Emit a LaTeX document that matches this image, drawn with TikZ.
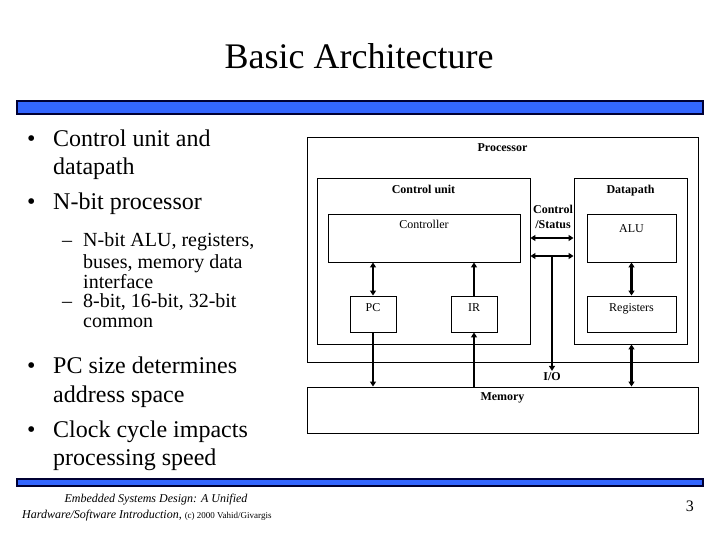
\documentclass[tikz,border=0pt]{standalone}
\usepackage{fontspec}
\setmainfont{Liberation Serif}
\usetikzlibrary{arrows.meta, positioning}

\definecolor{barblue}{RGB}{51,102,255}
\definecolor{barnavy}{RGB}{0,0,51}

\tikzset{
  box/.style={draw, line width=0.9pt, rectangle, inner sep=0pt},
  lbl/.style={anchor=base, inner sep=0pt, font=\fontsize{12}{14}\selectfont},
  blbl/.style={lbl, font=\fontsize{12}{14}\selectfont\bfseries},
  bus/.style={line width=2.2pt, {Triangle[length=5pt,width=6pt]}-{Triangle[length=5pt,width=6pt]}},
  toarrow/.style={line width=2.2pt, -{Triangle[length=5pt,width=6pt]}},
  bigtxt/.style={anchor=base west, inner sep=0pt, font=\fontsize{24}{28}\selectfont},
  subtxt/.style={anchor=base west, inner sep=0pt, font=\fontsize{20}{20}\selectfont}
}

\begin{document}
\begin{tikzpicture}[x=1pt, y=-1pt]
  \useasboundingbox (0,0) rectangle (720,540);

  % Title and bars
  \node[anchor=base, inner sep=0pt, font=\fontsize{36}{40}\selectfont] (title) at (359,69) {Basic Architecture};
  \filldraw[fill=barblue, draw=barnavy, line width=1.6pt] (17,101) rectangle (703,114);
  \filldraw[fill=barblue, draw=barnavy, line width=1.6pt] (17,479) rectangle (703,486);

  % Bullet text
  \node[bigtxt] (dot1) at (27,146.7) {•};
  \node[bigtxt] (cu1) at (53,146.7) {Control unit and};
  \node[bigtxt] (cu2) at (53,175) {datapath};
  \node[bigtxt] (dot2) at (27,210) {•};
  \node[bigtxt] (nb1) at (53,210) {N-bit processor};
  \node[subtxt] (dash1) at (62,247) {–};
  \node[subtxt] (alu1) at (83,247) {N-bit ALU, registers,};
  \node[subtxt] (alu2) at (83,268) {buses, memory data};
  \node[subtxt] (alu3) at (83,288) {interface};
  \node[subtxt] (dash2) at (62,307.5) {–};
  \node[subtxt] (wd1) at (83,307.5) {8-bit, 16-bit, 32-bit};
  \node[subtxt] (wd2) at (83,327) {common};
  \node[bigtxt] (dot3) at (27,373) {•};
  \node[bigtxt] (pcs1) at (53,373) {PC size determines};
  \node[bigtxt] (pcs2) at (53,402) {address space};
  \node[bigtxt] (dot4) at (27,437) {•};
  \node[bigtxt] (clk1) at (53,437) {Clock cycle impacts};
  \node[bigtxt] (clk2) at (53,465) {processing speed};

  % Boxes
  \node[box, minimum width=391pt, minimum height=225pt] (proc) at (502.5,249.5) {};
  \node[box, minimum width=213pt, minimum height=166pt] (cu) at (423.5,261) {};
  \node[box, minimum width=113pt, minimum height=166pt] (dp) at (630.5,261) {};
  \node[box, minimum width=192pt, minimum height=48pt] (ctrl) at (424,238) {};
  \node[box, minimum width=89pt, minimum height=48pt] (alu) at (631.5,238) {};
  \node[box, minimum width=46pt, minimum height=36pt] (pc) at (373,314) {};
  \node[box, minimum width=46pt, minimum height=36pt] (ir) at (474,314) {};
  \node[box, minimum width=89pt, minimum height=36pt] (reg) at (631.5,314) {};
  \node[box, minimum width=391pt, minimum height=46pt] (mem) at (502.5,410) {};

  % Box labels
  \node[blbl] (proclbl) at ([yshift=-15pt]proc.north) {Processor};
  \node[blbl] (culbl) at ([yshift=-16pt]cu.north) {Control unit};
  \node[blbl] (dplbl) at ([yshift=-16pt]dp.north) {Datapath};
  \node[lbl] (ctrllbl) at ([yshift=-15pt]ctrl.north) {Controller};
  \node[lbl] (alulbl) at ([yshift=-19pt]alu.north) {ALU};
  \node[lbl] (pclbl) at ([yshift=-16pt]pc.north) {PC};
  \node[lbl] (irlbl) at ([yshift=-16pt]ir.north) {IR};
  \node[lbl] (reglbl) at ([yshift=-16pt]reg.north) {Registers};
  \node[blbl] (memlbl) at ([yshift=-14pt]mem.north) {Memory};
  \node[blbl, align=center, font=\fontsize{12}{15}\selectfont\bfseries] (cslbl) at (553,228.3) {Control\\/Status};
  \node[blbl, inner sep=1pt] (io) at (552,380) {I/O};

  % Connections
  \coordinate (cs1) at (552,238);
  \coordinate (cs2) at (552,256);
  \draw[bus] (cu.east |- cs1) -- (dp.west |- cs1);
  \draw[bus] (cu.east |- cs2) -- (dp.west |- cs2);
  \draw[toarrow] (cs2) -- (io.north);
  \draw[bus] (ctrl.south -| pc.north) -- (pc.north);
  \draw[toarrow] (ir.north) -- (ir.north |- ctrl.south);
  \draw[bus] (alu.south) -- (reg.north);
  \draw[toarrow] (pc.south) -- (pc.south |- mem.north);
  \draw[toarrow] (ir.south |- mem.north) -- (ir.south);
  \draw[bus] (dp.south -| reg.south) -- (reg.south |- mem.north);

  % Footer
  \node[anchor=base, inner sep=0pt, font=\fontsize{12}{14}\selectfont\itshape] (foot1) at (156,502) {Embedded Systems Design: A Unified};
  \node[anchor=base west, inner sep=0pt, font=\fontsize{12}{14}\selectfont\itshape] (foot2) at (22,518) {Hardware/Software Introduction, {\upshape\fontsize{9}{11}\selectfont (c) 2000 Vahid/Givargis}};
  \node[anchor=base east, inner sep=0pt, font=\fontsize{16}{18}\selectfont] (pagenum) at (694,511) {3};
\end{tikzpicture}
\end{document}
